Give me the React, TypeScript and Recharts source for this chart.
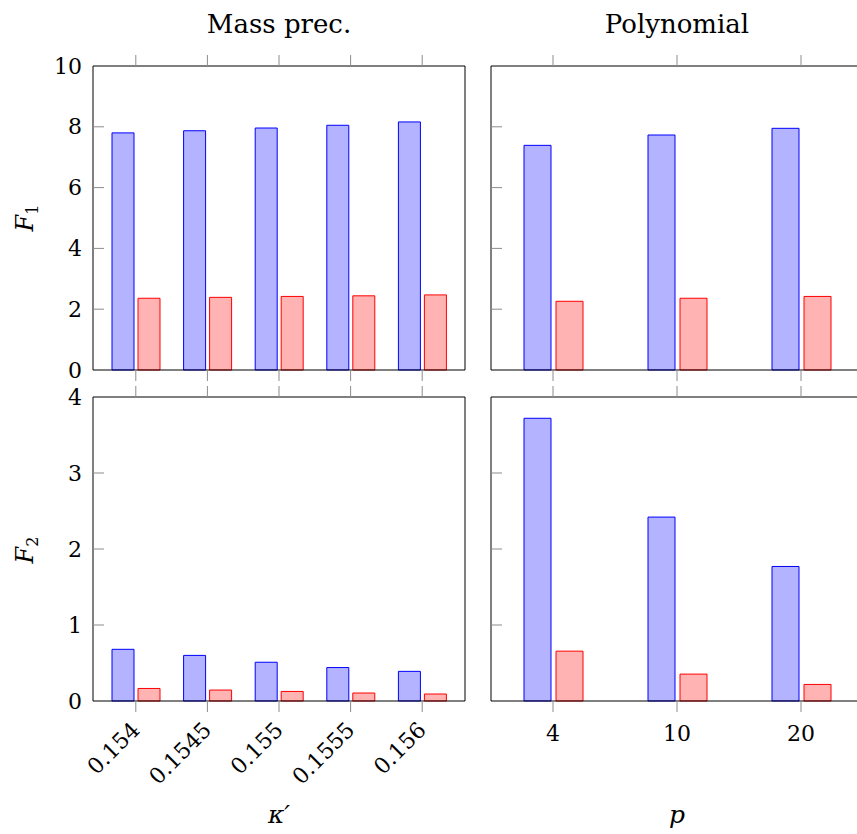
import { BarChart, Bar, XAxis, YAxis } from 'recharts';

const kappaLabels = ['0.154', '0.1545', '0.155', '0.1555', '0.156'];
const polyLabels = ['4', '10', '20'];

const massF1Blue = [7.8, 7.87, 7.96, 8.05, 8.16];
const massF1Red = [2.36, 2.39, 2.42, 2.44, 2.47];
const polyF1Blue = [7.39, 7.73, 7.95];
const polyF1Red = [2.26, 2.36, 2.42];

const massF2Blue = [0.68, 0.6, 0.51, 0.44, 0.39];
const massF2Red = [0.165, 0.144, 0.126, 0.105, 0.092];
const polyF2Blue = [3.72, 2.42, 1.77];
const polyF2Red = [0.656, 0.354, 0.218];

const f1Ticks = [0, 2, 4, 6, 8, 10];
const f2Ticks = [0, 1, 2, 3, 4];

const FONT = '"DejaVu Serif", serif';
const TICK = '#8c8c8c';

const rows = (labels, blue, red) => labels.map((x, i) => ({ x, blue: blue[i], red: red[i] }));

const leftTick = (showLabel, max) => (p) => {
  const v = p.payload.value;
  const edge = v === 0 || v === max;
  return (
    <g>
      {!edge && <line x1={p.x} x2={p.x + 11} y1={p.y} y2={p.y} stroke={TICK} />}
      {showLabel && (
        <text x={p.x - 11} y={p.y} textAnchor="end" dominantBaseline="central" fontSize={22} fontFamily={FONT} fill="#000">
          {v}
        </text>
      )}
    </g>
  );
};

const rightTick = (max) => (p) => {
  const v = p.payload.value;
  if (v === 0 || v === max) return <g />;
  return <line x1={p.x - 11} x2={p.x} y1={p.y} y2={p.y} stroke={TICK} />;
};

const topTick = (p) => <line x1={p.x} x2={p.x} y1={p.y - 11} y2={p.y} stroke={TICK} />;

const bottomTick = (mode) => (p) => (
  <g>
    <line x1={p.x} x2={p.x} y1={p.y} y2={p.y + 11} stroke={TICK} />
    {mode === 'rotated' && (
      <text
        x={p.x}
        y={p.y + 25}
        transform={`rotate(-45 ${p.x} ${p.y + 25})`}
        textAnchor="end"
        dominantBaseline="central"
        fontSize={22}
        fontFamily={FONT}
        fill="#000"
      >
        {p.payload.value}
      </text>
    )}
    {mode === 'plain' && (
      <text x={p.x} y={p.y + 40} textAnchor="middle" fontSize={22} fontFamily={FONT} fill="#000">
        {p.payload.value}
      </text>
    )}
  </g>
);

function Panel({ data, left, top, yw, mt, mb, yMax, yTicks, showY, xMode, barSize, barGap, pad }) {
  // plot area is 372 x 304; axes of thickness 1 sit on the frame
  const W = yw + 372 + 11;
  const H = mt + 1 + 304 + 1 + mb;
  return (
    <div style={{ position: 'absolute', left, top }}>
      <BarChart width={W} height={H} data={data} margin={{ top: mt, right: 10, bottom: mb, left: 0 }} barSize={barSize} barGap={barGap}>
        <XAxis xAxisId="b" dataKey="x" orientation="bottom" height={1} padding={pad} interval={0} tickSize={0} tickMargin={0} tickLine={false} stroke="#000" axisLine={{ stroke: '#000' }} tick={bottomTick(xMode)} />
        <XAxis xAxisId="t" dataKey="x" orientation="top" height={1} padding={pad} interval={0} tickSize={0} tickMargin={0} tickLine={false} stroke="#000" axisLine={{ stroke: '#000' }} tick={topTick} />
        <YAxis yAxisId="l" orientation="left" width={yw} domain={[0, yMax]} ticks={yTicks} interval={0} tickSize={0} tickMargin={0} tickLine={false} stroke="#000" axisLine={{ stroke: '#000' }} tick={leftTick(showY, yMax)} />
        <YAxis yAxisId="r" orientation="right" width={1} domain={[0, yMax]} ticks={yTicks} interval={0} tickSize={0} tickMargin={0} tickLine={false} stroke="#000" axisLine={{ stroke: '#000' }} tick={rightTick(yMax)} />
        <Bar xAxisId="b" yAxisId="l" dataKey="blue" fill="#b3b3ff" stroke="#0000ff" strokeWidth={1} isAnimationActive={false} />
        <Bar xAxisId="b" yAxisId="l" dataKey="red" fill="#ffb3b3" stroke="#ff0000" strokeWidth={1} isAnimationActive={false} />
      </BarChart>
    </div>
  );
}

export default function App() {
  const leftPad = { left: 7, right: 7 };
  const rightPad = { left: 0, right: 0 };
  return (
    <div style={{ position: 'fixed', left: 0, top: 0, width: 857, height: 834, overflow: 'hidden', background: '#fff' }}>
      <Panel data={rows(kappaLabels, massF1Blue, massF1Red)} left={0} top={0} yw={93} mt={65} mb={20} yMax={10} yTicks={f1Ticks} showY xMode="none" barSize={22} barGap={4} pad={leftPad} />
      <Panel data={rows(polyLabels, polyF1Blue, polyF1Red)} left={481} top={0} yw={10} mt={65} mb={20} yMax={10} yTicks={f1Ticks} showY={false} xMode="none" barSize={27} barGap={5} pad={rightPad} />
      <Panel data={rows(kappaLabels, massF2Blue, massF2Red)} left={0} top={380} yw={93} mt={16} mb={110} yMax={4} yTicks={f2Ticks} showY xMode="rotated" barSize={22} barGap={4} pad={leftPad} />
      <Panel data={rows(polyLabels, polyF2Blue, polyF2Red)} left={481} top={380} yw={10} mt={16} mb={110} yMax={4} yTicks={f2Ticks} showY={false} xMode="plain" barSize={27} barGap={5} pad={rightPad} />
      <svg width={857} height={834} style={{ position: 'absolute', left: 0, top: 0, pointerEvents: 'none' }}>
        <g fontFamily={FONT} fill="#000">
          <text x={279} y={33} textAnchor="middle" fontSize={26}>Mass prec.</text>
          <text x={677} y={33} textAnchor="middle" fontSize={26}>Polynomial</text>
          <text transform="translate(33 218) rotate(-90)" textAnchor="middle" fontSize={24}>
            <tspan fontStyle="italic">F</tspan>
            <tspan fontSize={16} dy={5}>1</tspan>
          </text>
          <text transform="translate(33 550) rotate(-90)" textAnchor="middle" fontSize={24}>
            <tspan fontStyle="italic">F</tspan>
            <tspan fontSize={16} dy={5}>2</tspan>
          </text>
          <text x={279} y={823} textAnchor="middle" fontSize={25} fontStyle="italic">κ′</text>
          <text x={677} y={823} textAnchor="middle" fontSize={25} fontStyle="italic">p</text>
        </g>
      </svg>
    </div>
  );
}
